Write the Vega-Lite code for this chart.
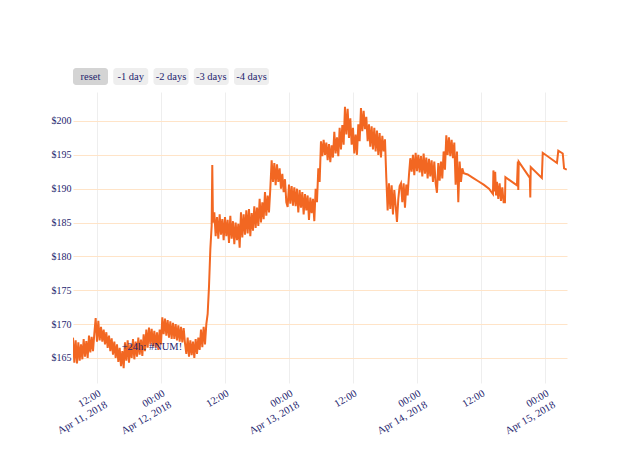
{
  "$schema": "https://vega.github.io/schema/vega-lite/v6.json",
  "autosize": {"type": "none"},
  "padding": {"left": 73, "top": 68, "right": 567, "bottom": 389},
  "bounds": "flush",
  "spacing": 7,
  "background": "white",
  "config": {"font": "Liberation Serif", "view": {"stroke": null}},
  "vconcat": [
    {
      "width": 196,
      "height": 17,
      "data": {"values": [
        {"label": "reset", "state": "active"},
        {"label": "-1 day", "state": "idle"},
        {"label": "-2 days", "state": "idle"},
        {"label": "-3 days", "state": "idle"},
        {"label": "-4 days", "state": "idle"}
      ]},
      "layer": [
        {
          "mark": {"type": "rect", "cornerRadius": 3},
          "encoding": {
            "x": {"field": "label", "type": "nominal", "sort": null, "scale": {"paddingInner": 0.13, "paddingOuter": 0}, "axis": null},
            "color": {"field": "state", "type": "nominal", "scale": {"domain": ["active", "idle"], "range": ["#d4d4d4", "#eeeeee"]}, "legend": null}
          }
        },
        {
          "mark": {"type": "text", "fontSize": 10.5, "color": "#25256e"},
          "encoding": {
            "x": {"field": "label", "type": "nominal", "sort": null, "axis": null},
            "text": {"field": "label"}
          }
        }
      ]
    },
    {
      "width": 494,
      "height": 291,
      "layer": [
        {
          "data": {"values": [
            {"t":"2018-04-11T07:30","v":168.0},{"t":"2018-04-11T07:45","v":164.3},{"t":"2018-04-11T08:00","v":167.6},{"t":"2018-04-11T08:15","v":164.2},
            {"t":"2018-04-11T08:30","v":167.3},{"t":"2018-04-11T08:45","v":164.6},{"t":"2018-04-11T09:00","v":167.0},{"t":"2018-04-11T09:15","v":164.8},
            {"t":"2018-04-11T09:30","v":167.8},{"t":"2018-04-11T09:45","v":165.2},{"t":"2018-04-11T10:00","v":167.5},{"t":"2018-04-11T10:15","v":165.0},
            {"t":"2018-04-11T10:30","v":168.3},{"t":"2018-04-11T10:45","v":165.8},{"t":"2018-04-11T11:00","v":168.1},{"t":"2018-04-11T11:15","v":166.0},
            {"t":"2018-04-11T11:30","v":168.6},{"t":"2018-04-11T11:45","v":170.9},{"t":"2018-04-11T12:00","v":167.4},{"t":"2018-04-11T12:15","v":170.5},
            {"t":"2018-04-11T12:30","v":167.6},{"t":"2018-04-11T12:45","v":169.6},{"t":"2018-04-11T13:00","v":167.4},{"t":"2018-04-11T13:15","v":169.2},
            {"t":"2018-04-11T13:30","v":167.0},{"t":"2018-04-11T13:45","v":168.8},{"t":"2018-04-11T14:00","v":166.5},{"t":"2018-04-11T14:15","v":168.3},
            {"t":"2018-04-11T14:30","v":166.0},{"t":"2018-04-11T14:45","v":167.9},{"t":"2018-04-11T15:00","v":165.5},{"t":"2018-04-11T15:15","v":167.4},
            {"t":"2018-04-11T15:30","v":165.0},{"t":"2018-04-11T15:45","v":167.0},{"t":"2018-04-11T16:00","v":164.4},{"t":"2018-04-11T16:15","v":166.5},
            {"t":"2018-04-11T16:30","v":163.8},{"t":"2018-04-11T16:45","v":166.0},{"t":"2018-04-11T17:00","v":163.5},{"t":"2018-04-11T17:15","v":167.3},
            {"t":"2018-04-11T17:30","v":164.6},{"t":"2018-04-11T17:45","v":167.6},{"t":"2018-04-11T18:00","v":164.3},{"t":"2018-04-11T18:15","v":167.0},
            {"t":"2018-04-11T18:30","v":165.0},{"t":"2018-04-11T18:45","v":167.8},{"t":"2018-04-11T19:00","v":164.8},{"t":"2018-04-11T19:15","v":167.4},
            {"t":"2018-04-11T19:30","v":165.2},{"t":"2018-04-11T19:45","v":168.0},{"t":"2018-04-11T20:00","v":165.5},{"t":"2018-04-11T20:15","v":167.7},
            {"t":"2018-04-11T20:30","v":165.3},{"t":"2018-04-11T20:45","v":168.5},{"t":"2018-04-11T21:00","v":166.0},{"t":"2018-04-11T21:15","v":169.2},
            {"t":"2018-04-11T21:30","v":166.5},{"t":"2018-04-11T21:45","v":169.5},{"t":"2018-04-11T22:00","v":167.0},{"t":"2018-04-11T22:15","v":169.3},
            {"t":"2018-04-11T22:30","v":166.7},{"t":"2018-04-11T22:45","v":169.0},{"t":"2018-04-11T23:00","v":166.5},{"t":"2018-04-11T23:15","v":168.8},
            {"t":"2018-04-11T23:30","v":166.2},{"t":"2018-04-11T23:45","v":169.2},{"t":"2018-04-12T00:00","v":167.0},{"t":"2018-04-12T00:15","v":171.0},
            {"t":"2018-04-12T00:30","v":168.5},{"t":"2018-04-12T00:45","v":170.8},{"t":"2018-04-12T01:00","v":168.3},{"t":"2018-04-12T01:15","v":170.6},
            {"t":"2018-04-12T01:30","v":168.0},{"t":"2018-04-12T01:45","v":170.4},{"t":"2018-04-12T02:00","v":167.8},{"t":"2018-04-12T02:15","v":170.2},
            {"t":"2018-04-12T02:30","v":167.8},{"t":"2018-04-12T02:45","v":170.0},{"t":"2018-04-12T03:00","v":167.6},{"t":"2018-04-12T03:15","v":169.8},
            {"t":"2018-04-12T03:30","v":167.4},{"t":"2018-04-12T03:45","v":169.6},{"t":"2018-04-12T04:00","v":167.3},{"t":"2018-04-12T04:15","v":169.4},
            {"t":"2018-04-12T04:30","v":167.2},{"t":"2018-04-12T04:45","v":165.6},{"t":"2018-04-12T05:00","v":168.0},{"t":"2018-04-12T05:15","v":165.2},
            {"t":"2018-04-12T05:30","v":167.6},{"t":"2018-04-12T05:45","v":165.4},{"t":"2018-04-12T06:00","v":167.4},{"t":"2018-04-12T06:15","v":165.0},
            {"t":"2018-04-12T06:30","v":167.8},{"t":"2018-04-12T06:45","v":165.6},{"t":"2018-04-12T07:00","v":168.0},{"t":"2018-04-12T07:15","v":166.2},
            {"t":"2018-04-12T07:30","v":169.2},{"t":"2018-04-12T07:45","v":166.6},{"t":"2018-04-12T08:00","v":169.6},{"t":"2018-04-12T08:15","v":167.0},
            {"t":"2018-04-12T08:30","v":170.0},{"t":"2018-04-12T08:45","v":171.5},{"t":"2018-04-12T09:00","v":175.5},{"t":"2018-04-12T09:15","v":181.0},
            {"t":"2018-04-12T09:30","v":184.5},{"t":"2018-04-12T09:37","v":193.5},{"t":"2018-04-12T09:45","v":185.0},
            {"t":"2018-04-12T10:00","v":186.5},{"t":"2018-04-12T10:15","v":183.0},{"t":"2018-04-12T10:30","v":185.8},{"t":"2018-04-12T10:45","v":182.6},
            {"t":"2018-04-12T11:00","v":186.2},{"t":"2018-04-12T11:15","v":183.2},{"t":"2018-04-12T11:30","v":185.5},{"t":"2018-04-12T11:45","v":182.4},
            {"t":"2018-04-12T12:00","v":185.8},{"t":"2018-04-12T12:15","v":183.0},{"t":"2018-04-12T12:30","v":185.4},{"t":"2018-04-12T12:45","v":182.0},
            {"t":"2018-04-12T13:00","v":186.0},{"t":"2018-04-12T13:15","v":182.6},{"t":"2018-04-12T13:30","v":185.2},{"t":"2018-04-12T13:45","v":181.8},
            {"t":"2018-04-12T14:00","v":185.0},{"t":"2018-04-12T14:15","v":182.4},{"t":"2018-04-12T14:30","v":184.8},{"t":"2018-04-12T14:45","v":181.3},
            {"t":"2018-04-12T15:00","v":186.5},{"t":"2018-04-12T15:15","v":182.8},{"t":"2018-04-12T15:30","v":186.2},{"t":"2018-04-12T15:45","v":183.2},
            {"t":"2018-04-12T16:00","v":186.8},{"t":"2018-04-12T16:15","v":183.4},{"t":"2018-04-12T16:30","v":187.0},{"t":"2018-04-12T16:45","v":183.0},
            {"t":"2018-04-12T17:00","v":186.4},{"t":"2018-04-12T17:15","v":183.8},{"t":"2018-04-12T17:30","v":187.4},{"t":"2018-04-12T17:45","v":184.2},
            {"t":"2018-04-12T18:00","v":187.2},{"t":"2018-04-12T18:15","v":184.5},{"t":"2018-04-12T18:30","v":188.5},{"t":"2018-04-12T18:45","v":185.0},
            {"t":"2018-04-12T19:00","v":188.0},{"t":"2018-04-12T19:15","v":185.5},{"t":"2018-04-12T19:30","v":189.5},{"t":"2018-04-12T19:45","v":186.0},
            {"t":"2018-04-12T20:00","v":189.0},{"t":"2018-04-12T20:15","v":186.5},{"t":"2018-04-12T20:30","v":190.0},{"t":"2018-04-12T20:45","v":194.2},
            {"t":"2018-04-12T21:00","v":191.0},{"t":"2018-04-12T21:15","v":193.8},{"t":"2018-04-12T21:30","v":190.5},{"t":"2018-04-12T21:45","v":193.6},
            {"t":"2018-04-12T22:00","v":191.0},{"t":"2018-04-12T22:15","v":193.0},{"t":"2018-04-12T22:30","v":190.0},{"t":"2018-04-12T22:45","v":192.2},
            {"t":"2018-04-12T23:00","v":189.5},{"t":"2018-04-12T23:15","v":191.4},{"t":"2018-04-12T23:30","v":188.0},{"t":"2018-04-12T23:45","v":187.3},
            {"t":"2018-04-13T00:00","v":190.6},{"t":"2018-04-13T00:15","v":187.8},{"t":"2018-04-13T00:30","v":190.4},{"t":"2018-04-13T00:45","v":187.5},
            {"t":"2018-04-13T01:00","v":190.2},{"t":"2018-04-13T01:15","v":187.4},{"t":"2018-04-13T01:30","v":190.0},{"t":"2018-04-13T01:45","v":186.5},
            {"t":"2018-04-13T02:00","v":189.8},{"t":"2018-04-13T02:15","v":187.2},{"t":"2018-04-13T02:30","v":189.5},{"t":"2018-04-13T02:45","v":186.2},
            {"t":"2018-04-13T03:00","v":189.2},{"t":"2018-04-13T03:15","v":186.8},{"t":"2018-04-13T03:30","v":189.0},{"t":"2018-04-13T03:45","v":185.4},
            {"t":"2018-04-13T04:00","v":188.7},{"t":"2018-04-13T04:15","v":186.4},{"t":"2018-04-13T04:30","v":188.5},{"t":"2018-04-13T04:45","v":185.2},
            {"t":"2018-04-13T05:00","v":190.0},{"t":"2018-04-13T05:15","v":188.0},{"t":"2018-04-13T05:30","v":193.0},{"t":"2018-04-13T05:45","v":191.0},
            {"t":"2018-04-13T06:00","v":197.0},{"t":"2018-04-13T06:15","v":194.8},{"t":"2018-04-13T06:30","v":197.2},{"t":"2018-04-13T06:45","v":195.0},
            {"t":"2018-04-13T07:00","v":196.8},{"t":"2018-04-13T07:15","v":194.2},{"t":"2018-04-13T07:30","v":196.6},{"t":"2018-04-13T07:45","v":193.9},
            {"t":"2018-04-13T08:00","v":196.4},{"t":"2018-04-13T08:15","v":194.6},{"t":"2018-04-13T08:30","v":198.4},{"t":"2018-04-13T08:45","v":195.2},
            {"t":"2018-04-13T09:00","v":197.6},{"t":"2018-04-13T09:15","v":194.8},{"t":"2018-04-13T09:30","v":199.0},{"t":"2018-04-13T09:45","v":195.8},
            {"t":"2018-04-13T10:00","v":199.4},{"t":"2018-04-13T10:15","v":196.5},{"t":"2018-04-13T10:30","v":202.1},{"t":"2018-04-13T10:45","v":198.0},
            {"t":"2018-04-13T11:00","v":201.8},{"t":"2018-04-13T11:15","v":197.5},{"t":"2018-04-13T11:30","v":200.4},{"t":"2018-04-13T11:45","v":196.5},
            {"t":"2018-04-13T12:00","v":199.0},{"t":"2018-04-13T12:15","v":195.2},{"t":"2018-04-13T12:30","v":198.0},{"t":"2018-04-13T12:45","v":195.0},
            {"t":"2018-04-13T13:00","v":199.5},{"t":"2018-04-13T13:15","v":197.0},{"t":"2018-04-13T13:30","v":201.9},{"t":"2018-04-13T13:45","v":198.5},
            {"t":"2018-04-13T14:00","v":201.5},{"t":"2018-04-13T14:15","v":198.8},{"t":"2018-04-13T14:30","v":200.6},{"t":"2018-04-13T14:45","v":197.0},
            {"t":"2018-04-13T15:00","v":199.5},{"t":"2018-04-13T15:15","v":196.2},{"t":"2018-04-13T15:30","v":199.2},{"t":"2018-04-13T15:45","v":195.8},
            {"t":"2018-04-13T16:00","v":199.0},{"t":"2018-04-13T16:15","v":195.5},{"t":"2018-04-13T16:30","v":198.6},{"t":"2018-04-13T16:45","v":195.0},
            {"t":"2018-04-13T17:00","v":198.2},{"t":"2018-04-13T17:15","v":194.6},{"t":"2018-04-13T17:30","v":197.8},{"t":"2018-04-13T17:45","v":195.5},
            {"t":"2018-04-13T18:00","v":197.3},{"t":"2018-04-13T18:15","v":191.6},{"t":"2018-04-13T18:30","v":186.8},{"t":"2018-04-13T18:45","v":190.8},
            {"t":"2018-04-13T19:00","v":187.0},{"t":"2018-04-13T19:15","v":190.5},{"t":"2018-04-13T19:30","v":186.2},{"t":"2018-04-13T19:45","v":189.8},
            {"t":"2018-04-13T20:00","v":187.5},{"t":"2018-04-13T20:15","v":185.1},{"t":"2018-04-13T20:30","v":188.5},{"t":"2018-04-13T20:45","v":190.4},
            {"t":"2018-04-13T21:00","v":190.8},{"t":"2018-04-13T21:15","v":188.0},{"t":"2018-04-13T21:30","v":190.8},{"t":"2018-04-13T21:45","v":187.2},
            {"t":"2018-04-13T22:00","v":190.6},{"t":"2018-04-13T22:15","v":189.0},{"t":"2018-04-13T22:30","v":192.0},{"t":"2018-04-13T22:45","v":194.5},
            {"t":"2018-04-13T23:00","v":192.5},{"t":"2018-04-13T23:15","v":195.0},{"t":"2018-04-13T23:30","v":192.0},{"t":"2018-04-13T23:45","v":195.3},
            {"t":"2018-04-14T00:00","v":192.6},{"t":"2018-04-14T00:15","v":195.0},{"t":"2018-04-14T00:30","v":192.4},{"t":"2018-04-14T00:45","v":194.8},
            {"t":"2018-04-14T01:00","v":191.8},{"t":"2018-04-14T01:15","v":195.2},{"t":"2018-04-14T01:30","v":192.2},{"t":"2018-04-14T01:45","v":194.6},
            {"t":"2018-04-14T02:00","v":191.5},{"t":"2018-04-14T02:15","v":194.4},{"t":"2018-04-14T02:30","v":191.8},{"t":"2018-04-14T02:45","v":194.2},
            {"t":"2018-04-14T03:00","v":191.0},{"t":"2018-04-14T03:15","v":194.0},{"t":"2018-04-14T03:30","v":190.8},{"t":"2018-04-14T03:45","v":189.4},
            {"t":"2018-04-14T04:00","v":193.8},{"t":"2018-04-14T04:15","v":191.2},{"t":"2018-04-14T04:30","v":194.0},{"t":"2018-04-14T04:45","v":191.5},
            {"t":"2018-04-14T05:00","v":195.5},{"t":"2018-04-14T05:15","v":192.8},{"t":"2018-04-14T05:30","v":197.9},{"t":"2018-04-14T05:45","v":195.0},
            {"t":"2018-04-14T06:00","v":197.6},{"t":"2018-04-14T06:15","v":194.8},{"t":"2018-04-14T06:30","v":197.2},{"t":"2018-04-14T06:45","v":194.5},
            {"t":"2018-04-14T07:00","v":196.8},{"t":"2018-04-14T07:15","v":190.6},{"t":"2018-04-14T07:30","v":195.5},{"t":"2018-04-14T07:45","v":188.0},
            {"t":"2018-04-14T08:00","v":194.0},{"t":"2018-04-14T08:15","v":191.0},{"t":"2018-04-14T08:30","v":193.0},{"t":"2018-04-14T08:45","v":192.3},
            {"t":"2018-04-14T09:30","v":192.1},{"t":"2018-04-14T10:30","v":191.6},{"t":"2018-04-14T11:30","v":191.1},{"t":"2018-04-14T12:30","v":190.6},
            {"t":"2018-04-14T13:30","v":190.0},{"t":"2018-04-14T14:15","v":189.2},{"t":"2018-04-14T14:20","v":192.7},{"t":"2018-04-14T14:30","v":189.6},
            {"t":"2018-04-14T14:40","v":192.5},{"t":"2018-04-14T14:50","v":189.0},{"t":"2018-04-14T15:00","v":191.0},{"t":"2018-04-14T15:15","v":188.5},
            {"t":"2018-04-14T15:30","v":190.8},{"t":"2018-04-14T15:45","v":188.2},{"t":"2018-04-14T16:00","v":190.2},{"t":"2018-04-14T16:15","v":188.0},
            {"t":"2018-04-14T16:30","v":188.0},{"t":"2018-04-14T16:35","v":191.7},{"t":"2018-04-14T18:45","v":190.5},{"t":"2018-04-14T18:55","v":194.0},
            {"t":"2018-04-14T19:00","v":189.8},{"t":"2018-04-14T19:05","v":194.0},{"t":"2018-04-14T21:10","v":191.6},{"t":"2018-04-14T21:15","v":188.7},
            {"t":"2018-04-14T21:20","v":193.2},{"t":"2018-04-14T23:25","v":191.6},{"t":"2018-04-14T23:35","v":195.3},{"t":"2018-04-15T02:15","v":193.8},
            {"t":"2018-04-15T02:30","v":195.6},{"t":"2018-04-15T03:20","v":195.2},{"t":"2018-04-15T03:35","v":193.0},{"t":"2018-04-15T04:05","v":192.8}
          ]},
          "mark": {"type": "line", "color": "#f26722", "strokeWidth": 2, "clip": true},
          "encoding": {
            "x": {
              "field": "t", "type": "temporal",
              "scale": {"domain": [{"year": 2018, "month": 4, "date": 11, "hours": 7, "minutes": 30}, {"year": 2018, "month": 4, "date": 15, "hours": 4, "minutes": 8}]},
              "axis": {
                "values": [
                  {"year": 2018, "month": 4, "date": 11, "hours": 12},
                  {"year": 2018, "month": 4, "date": 12, "hours": 0},
                  {"year": 2018, "month": 4, "date": 12, "hours": 12},
                  {"year": 2018, "month": 4, "date": 13, "hours": 0},
                  {"year": 2018, "month": 4, "date": 13, "hours": 12},
                  {"year": 2018, "month": 4, "date": 14, "hours": 0},
                  {"year": 2018, "month": 4, "date": 14, "hours": 12},
                  {"year": 2018, "month": 4, "date": 15, "hours": 0}
                ],
                "labelExpr": "hours(datum.value) == 0 || datum.index == 0 ? [timeFormat(datum.value, '%H:%M'), timeFormat(datum.value, '%b %d, %Y')] : timeFormat(datum.value, '%H:%M')",
                "labelAngle": -30, "labelAlign": "right", "labelBaseline": "top",
                "labelFontSize": 10.5, "labelColor": "#25256e", "labelPadding": 5, "labelLineHeight": 13,
                "labelOverlap": false, "labelFlush": false, "labelBound": false,
                "grid": true, "gridColor": "#eeeeee", "gridWidth": 1,
                "domain": false, "ticks": false, "title": null
              }
            },
            "y": {
              "field": "v", "type": "quantitative",
              "scale": {"domain": [161.3, 204.28], "nice": false, "zero": false},
              "axis": {
                "values": [165, 170, 175, 180, 185, 190, 195, 200],
                "labelExpr": "'$' + datum.value",
                "labelFontSize": 10, "labelColor": "#25256e", "labelPadding": 2,
                "grid": true, "gridColor": "#ffe4c8", "gridWidth": 1,
                "domain": false, "ticks": false, "title": null
              }
            }
          }
        },
        {
          "data": {"values": [{"t": "2018-04-11T22:18", "v": 166.6, "label": "+24h: #NUM!"}]},
          "mark": {"type": "text", "fontSize": 10.5, "color": "#25256e", "align": "center", "baseline": "middle"},
          "encoding": {
            "x": {"field": "t", "type": "temporal"},
            "y": {"field": "v", "type": "quantitative"},
            "text": {"field": "label"}
          }
        }
      ]
    }
  ]
}
